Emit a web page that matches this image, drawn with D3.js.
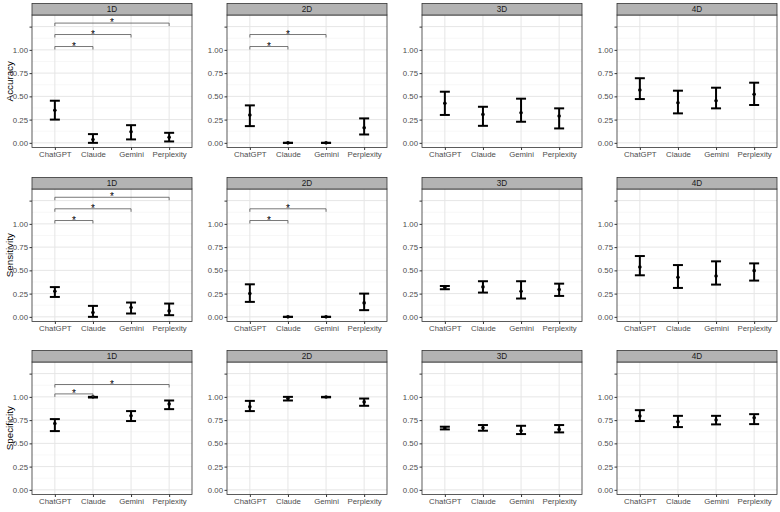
<!DOCTYPE html>
<html lang="en">
<head>
<meta charset="UTF-8">
<title>Accuracy / Sensitivity / Specificity nach Dimension</title>
<script src="https://d3js.org/d3.v7.min.js"></script>
<style>
    body { margin: 0; background: #fff; }
    svg { display: block; font-family: "Liberation Sans", Arial, sans-serif; }
</style>
</head>
<body>
<div id="chart"></div>
<script>
    // Daten
    const models = ["ChatGPT", "Claude", "Gemini", "Perplexity"];
    const dims = ["1D", "2D", "3D", "4D"];
    const metrics = ["Accuracy", "Sensitivity", "Specificity"];
    const yTicks = [0, 0.25, 0.5, 0.75, 1.0, 1.25];
    const yTickLabels = ["0.00", "0.25", "0.50", "0.75", "1.00", ""];

    // je Zeile eine Dimension (1D..4D), je Spalte ein Modell
    const accMean = [[0.35, 0.035, 0.12, 0.06], [0.30, 0.0, 0.0, 0.162], [0.425, 0.306, 0.324, 0.288], [0.568, 0.431, 0.453, 0.522]];
    const accLow  = [[0.25, 0.0, 0.037, 0.015], [0.18, 0.0, 0.0, 0.09], [0.30, 0.183, 0.227, 0.155], [0.471, 0.317, 0.371, 0.407]];
    const accHigh = [[0.453, 0.094, 0.19, 0.108], [0.403, 0.0, 0.0, 0.263], [0.55, 0.388, 0.475, 0.371], [0.695, 0.561, 0.593, 0.647]];

    const senMean = [[0.275, 0.046, 0.10, 0.064], [0.25, 0.0, 0.0, 0.15], [0.315, 0.322, 0.275, 0.293], [0.536, 0.425, 0.44, 0.497]];
    const senLow  = [[0.214, 0.0, 0.036, 0.018], [0.161, 0.0, 0.0, 0.072], [0.297, 0.261, 0.197, 0.225], [0.447, 0.311, 0.347, 0.39]];
    const senHigh = [[0.32, 0.118, 0.154, 0.143], [0.35, 0.0, 0.0, 0.25], [0.332, 0.383, 0.383, 0.357], [0.654, 0.557, 0.597, 0.575]];

    const speMean = [[0.714, 1.0, 0.796, 0.922], [0.893, 0.982, 0.998, 0.946], [0.665, 0.668, 0.636, 0.65], [0.793, 0.732, 0.75, 0.775]];
    const speLow  = [[0.632, 0.993, 0.74, 0.868], [0.847, 0.961, 0.995, 0.904], [0.65, 0.636, 0.60, 0.618], [0.74, 0.675, 0.704, 0.707]];
    const speHigh = [[0.761, 1.0, 0.847, 0.961], [0.957, 1.0, 1.0, 0.982], [0.679, 0.697, 0.689, 0.697], [0.857, 0.796, 0.796, 0.814]];

    // Signifikanz-Klammern: Metrik, Dimension, von, bis, Höhe (y-Wert)
    const sigMetric = ["Accuracy", "Accuracy", "Accuracy", "Accuracy", "Accuracy",
                       "Sensitivity", "Sensitivity", "Sensitivity", "Sensitivity", "Sensitivity",
                       "Specificity", "Specificity"];
    const sigDim    = ["1D", "1D", "1D", "2D", "2D", "1D", "1D", "1D", "2D", "2D", "1D", "1D"];
    const sigFrom   = ["ChatGPT", "ChatGPT", "ChatGPT", "ChatGPT", "ChatGPT", "ChatGPT", "ChatGPT", "ChatGPT", "ChatGPT", "ChatGPT", "ChatGPT", "ChatGPT"];
    const sigTo     = ["Claude", "Gemini", "Perplexity", "Claude", "Gemini", "Claude", "Gemini", "Perplexity", "Claude", "Gemini", "Claude", "Perplexity"];
    const sigY      = [1.036, 1.165, 1.288, 1.036, 1.165, 1.036, 1.162, 1.286, 1.036, 1.162, 1.032, 1.133];

    const series = {
        Accuracy: [accMean, accLow, accHigh],
        Sensitivity: [senMean, senLow, senHigh],
        Specificity: [speMean, speLow, speHigh]
    };

    const width = 780, height = 512;
    const panelW = 160, panelH = 132.5, stripH = 11.5;
    const colX = [32, 227, 422, 617];
    const rowY = [15, 189, 362];

    const svg = d3.select("#chart").append("svg")
        .attr("width", width)
        .attr("height", height);

    const y = d3.scaleLinear().domain([-0.05, 1.375]).range([panelH, 0]);
    const x = d3.scalePoint().domain(models).range([0, panelW]).padding(0.6);
    const minorTicks = d3.range(0.125, 1.376, 0.25);

    metrics.forEach((metric, r) => {
        const [meanArr, lowArr, highArr] = series[metric];

        // y-Achsentitel
        svg.append("text")
            .attr("transform", `translate(9, ${rowY[r] + panelH / 2}) rotate(-90)`)
            .attr("text-anchor", "middle")
            .attr("dominant-baseline", "central")
            .attr("font-size", 9.8)
            .attr("fill", "#000")
            .text(metric);

        dims.forEach((dim, c) => {
            const g = svg.append("g").attr("transform", `translate(${colX[c]}, ${rowY[r]})`);

            g.append("rect").attr("width", panelW).attr("height", panelH).attr("fill", "#fff");

            // Gitternetz
            g.selectAll(".minor").data(minorTicks).join("line")
                .attr("x1", 0).attr("x2", panelW)
                .attr("y1", d => y(d)).attr("y2", d => y(d))
                .attr("stroke", "#f1f1f1").attr("stroke-width", 0.6);
            g.selectAll(".major").data(yTicks).join("line")
                .attr("x1", 0).attr("x2", panelW)
                .attr("y1", d => y(d)).attr("y2", d => y(d))
                .attr("stroke", "#e6e6e6").attr("stroke-width", 1);
            g.selectAll(".vgrid").data(models).join("line")
                .attr("x1", d => x(d)).attr("x2", d => x(d))
                .attr("y1", 0).attr("y2", panelH)
                .attr("stroke", "#e6e6e6").attr("stroke-width", 1);

            // Fehlerbalken
            const rows = models.map((m, i) => ({
                m, mean: meanArr[c][i], lo: lowArr[c][i], hi: highArr[c][i]
            }));
            const eb = g.append("g").attr("stroke", "#000").attr("stroke-width", 2);
            eb.selectAll(".v").data(rows).join("line")
                .attr("x1", d => x(d.m)).attr("x2", d => x(d.m))
                .attr("y1", d => y(d.lo)).attr("y2", d => y(d.hi));
            eb.selectAll(".top").data(rows).join("line")
                .attr("x1", d => x(d.m) - 5).attr("x2", d => x(d.m) + 5)
                .attr("y1", d => y(d.hi)).attr("y2", d => y(d.hi));
            eb.selectAll(".bot").data(rows).join("line")
                .attr("x1", d => x(d.m) - 5).attr("x2", d => x(d.m) + 5)
                .attr("y1", d => y(d.lo)).attr("y2", d => y(d.lo));
            g.selectAll(".pt").data(rows).join("circle")
                .attr("cx", d => x(d.m)).attr("cy", d => y(d.mean))
                .attr("r", 1.8).attr("fill", "#000");

            // Signifikanz-Klammern
            sigY.forEach((sy, k) => {
                if (sigMetric[k] !== metric || sigDim[k] !== dim) return;
                const x1 = x(sigFrom[k]), x2 = x(sigTo[k]), yy = y(sy);
                g.append("path")
                    .attr("d", `M${x1},${yy + 3}V${yy}H${x2}V${yy + 3}`)
                    .attr("fill", "none").attr("stroke", "#555").attr("stroke-width", 0.8);
                g.append("text")
                    .attr("x", (x1 + x2) / 2).attr("y", yy + 3)
                    .attr("text-anchor", "middle")
                    .attr("font-size", 10)
                    .text("*");
            });

            // Rahmen
            g.append("rect").attr("width", panelW).attr("height", panelH)
                .attr("fill", "none").attr("stroke", "#333").attr("stroke-width", 0.8);

            // Streifen oben
            g.append("rect").attr("y", -stripH).attr("width", panelW).attr("height", stripH)
                .attr("fill", "#b3b3b3").attr("stroke", "#333").attr("stroke-width", 0.8);
            g.append("text")
                .attr("x", panelW / 2).attr("y", -stripH / 2)
                .attr("text-anchor", "middle").attr("dominant-baseline", "central")
                .attr("font-size", 8.2).attr("fill", "#1a1a1a")
                .text(dim);

            // Achsen
            const ya = g.append("g").call(d3.axisLeft(y).tickValues(yTicks)
                .tickFormat((d, i) => yTickLabels[i]).tickSize(2.5).tickPadding(1.5));
            const xa = g.append("g").attr("transform", `translate(0, ${panelH})`)
                .call(d3.axisBottom(x).tickSize(2.5).tickPadding(1.5));
            [ya, xa].forEach(a => {
                a.select(".domain").remove();
                a.selectAll(".tick line").attr("stroke", "#333");
                a.selectAll("text").attr("font-size", 7.8).attr("fill", "#4d4d4d")
                    .attr("font-family", "'Liberation Sans', Arial, sans-serif");
            });
        });
    });
</script>
</body>
</html>
